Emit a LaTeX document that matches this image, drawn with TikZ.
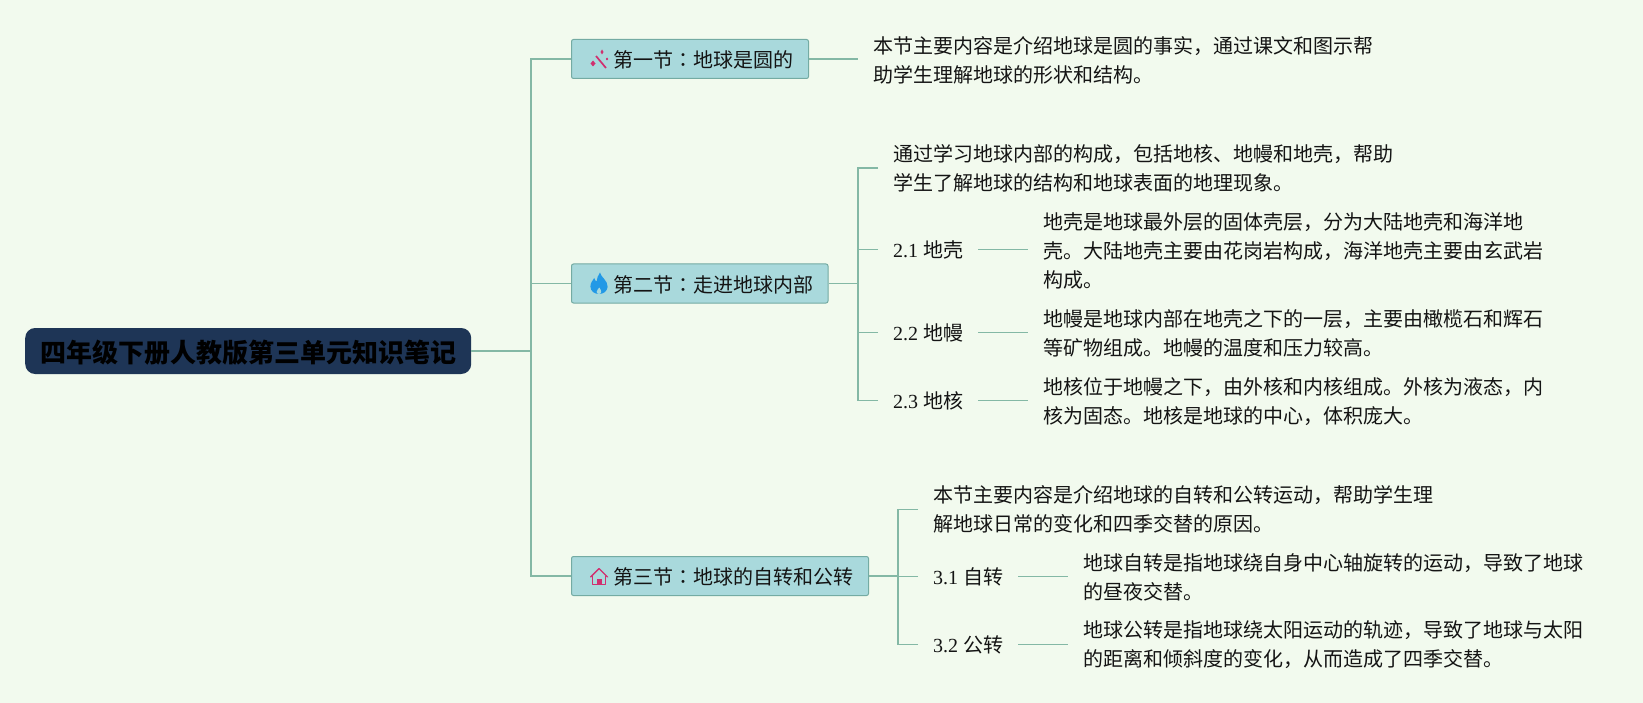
\documentclass[tikz,border=0pt]{standalone}
\usepackage{fontspec}
\setmainfont{Liberation Serif}
\newfontfamily\cjk{Noto Sans CJK SC}
\newfontfamily\cjkc{Noto Sans CJK TC}
\definecolor{bgc}{HTML}{F2FAEE}
\definecolor{linec}{HTML}{84B8A5}
\definecolor{boxc}{HTML}{A9D9DC}
\definecolor{boxe}{HTML}{74ABA3}
\definecolor{rootc}{HTML}{1E3556}
\definecolor{pinkc}{HTML}{D0306F}
\definecolor{bluec}{HTML}{2299E6}
\definecolor{txtc}{HTML}{141414}
\tikzset{
  conn/.style={draw=linec,line width=1.3pt},
  rootbox/.style={fill=rootc,rounded corners=10pt,minimum width=446pt,minimum height=46pt,inner sep=0pt,anchor=west,
    text height=25pt,text depth=2pt,font=\fontsize{26}{30}\cjk\bfseries,text=black},
  secbox/.style={fill=boxc,draw=boxe,line width=1pt,rounded corners=2pt,minimum height=39pt,inner sep=0pt,anchor=west,
    text height=19pt,text depth=2pt,font=\fontsize{20}{24}\cjk,text=txtc},
  para/.style={inner xsep=15pt,inner ysep=0pt,anchor=west,align=left,font=\fontsize{20}{29}\cjk,text=txtc},
  para2/.style={para},
  label2/.style={inner xsep=15pt,inner ysep=0pt,anchor=west,font=\fontsize{20}{24}\selectfont,text=txtc},
}
\begin{document}
\begin{tikzpicture}[x=1pt,y=-1pt]
\path[use as bounding box,fill=bgc] (0,0) rectangle (1643,703);

\node[rootbox] (root) at (25,351) {四年级下册人教版第三单元知识笔记};
\node[secbox] (b1) at (571,59) {\hspace*{42pt}第一节{\cjkc ：}地球是圆的\hspace*{15pt}};
\node[secbox] (b2) at (571,283.5) {\hspace*{42pt}第二节{\cjkc ：}走进地球内部\hspace*{14.5pt}};
\node[secbox] (b3) at (571,576) {\hspace*{42pt}第三节{\cjkc ：}地球的自转和公转\hspace*{15pt}};

\coordinate (trunk) at (531,351);
\coordinate (br2) at (858,283.5);
\coordinate (br3) at (898,576);

\node[para] (n1) at (858,60.5) {本节主要内容是介绍地球是圆的事实，通过课文和图示帮\\助学生理解地球的形状和结构。};

\node[para] (n20) at (878,168) {通过学习地球内部的构成，包括地核、地幔和地壳，帮助\\学生了解地球的结构和地球表面的地理现象。};
\node[label2] (l21) at (878,249.5) {2.1 {\cjk 地壳}};
\node[label2] (l22) at (878,332.5) {2.2 {\cjk 地幔}};
\node[label2] (l23) at (878,400.5) {2.3 {\cjk 地核}};
\node[para2] (d21) at (1028,251) {地壳是地球最外层的固体壳层，分为大陆地壳和海洋地\\壳。大陆地壳主要由花岗岩构成，海洋地壳主要由玄武岩\\构成。};
\node[para2] (d22) at (1028,333.5) {地幔是地球内部在地壳之下的一层，主要由橄榄石和辉石\\等矿物组成。地幔的温度和压力较高。};
\node[para2] (d23) at (1028,401.5) {地核位于地幔之下，由外核和内核组成。外核为液态，内\\核为固态。地核是地球的中心，体积庞大。};

\node[para] (n30) at (918,509.5) {本节主要内容是介绍地球的自转和公转运动，帮助学生理\\解地球日常的变化和四季交替的原因。};
\node[label2] (l31) at (918,576.5) {3.1 {\cjk 自转}};
\node[label2] (l32) at (918,644.5) {3.2 {\cjk 公转}};
\node[para2] (d31) at (1068,577) {地球自转是指地球绕自身中心轴旋转的运动，导致了地球\\的昼夜交替。};
\node[para2] (d32) at (1068,645) {地球公转是指地球绕太阳运动的轨迹，导致了地球与太阳\\的距离和倾斜度的变化，从而造成了四季交替。};

% connectors
\draw[conn] (root.east) -- (trunk);
\draw[conn] (b1.west) -| (trunk);
\draw[conn] (b2.west) -| (trunk);
\draw[conn] (b3.west) -| (trunk);
\draw[conn] (b1.east) -- (b1.east -| n1.west);
\draw[conn] (b2.east) -- (br2);
\draw[conn] (n20.west) -| (br2);
\draw[conn] (l21.west) -| (br2);
\draw[conn] (l22.west) -| (br2);
\draw[conn] (l23.west) -| (br2);
\draw[conn] (l21.east) -- (l21.east -| d21.west);
\draw[conn] (l22.east) -- (l22.east -| d22.west);
\draw[conn] (l23.east) -- (l23.east -| d23.west);
\draw[conn] (b3.east) -- (br3);
\draw[conn] (n30.west) -| (br3);
\draw[conn] (l31.west) -| (br3);
\draw[conn] (l32.west) -| (br3);
\draw[conn] (l31.east) -- (l31.east -| d31.west);
\draw[conn] (l32.east) -- (l32.east -| d32.west);

% wand icon
\begin{scope}[shift={(599,59)}]
\draw[pinkc,line width=1.7pt] (-3,-3) -- (7,9);
\fill[pinkc] (3,-9.5) -- (4.5,-7) -- (3,-4.5) -- (1.5,-7) -- cycle;
\fill[pinkc] (-6,1.5) -- (-3.5,4.5) -- (-6,7.5) -- (-8.5,4.5) -- cycle;
\fill[pinkc] (8,-1.5) -- (9.2,0) -- (8,1.5) -- (6.8,0) -- cycle;
\end{scope}

% flame icon
\begin{scope}[shift={(599,283.5)}]
\fill[bluec] (1,-11) .. controls (2,-6) and (9,-3) .. (8.6,3.5)
  .. controls (8.2,8) and (4,10.5) .. (0,10.5)
  .. controls (-4,10.5) and (-8.6,8) .. (-8.6,3)
  .. controls (-8.6,-1) and (-6,-3) .. (-4.8,-5.5)
  .. controls (-4,-3.5) and (-3.5,-2.5) .. (-2.5,-2)
  .. controls (-2,-5) and (-1,-8.5) .. (1,-11) -- cycle;
\fill[boxc] (0.3,4) .. controls (0.8,5.5) and (2.6,6.5) .. (2.2,8.5)
  .. controls (2,9.8) and (1,10.5) .. (0,10.5)
  .. controls (-1,10.5) and (-2.2,9.8) .. (-2.4,8.5)
  .. controls (-2.6,6.8) and (-0.4,5.5) .. (0.3,4) -- cycle;
\end{scope}

% house icon
\begin{scope}[shift={(599,576)}]
\draw[pinkc,line width=1.4pt,line join=round,line cap=round] (-8.5,1) -- (0,-7.5) -- (8.5,1);
\draw[pinkc,line width=1.4pt,line join=round] (-6.5,0) -- (-6.5,8.5) -- (6.5,8.5) -- (6.5,0);
\fill[pinkc] (-2.5,8.5) -- (-2.5,3) -- (2.5,3) -- (2.5,8.5) -- cycle;
\end{scope}
\end{tikzpicture}
\end{document}
